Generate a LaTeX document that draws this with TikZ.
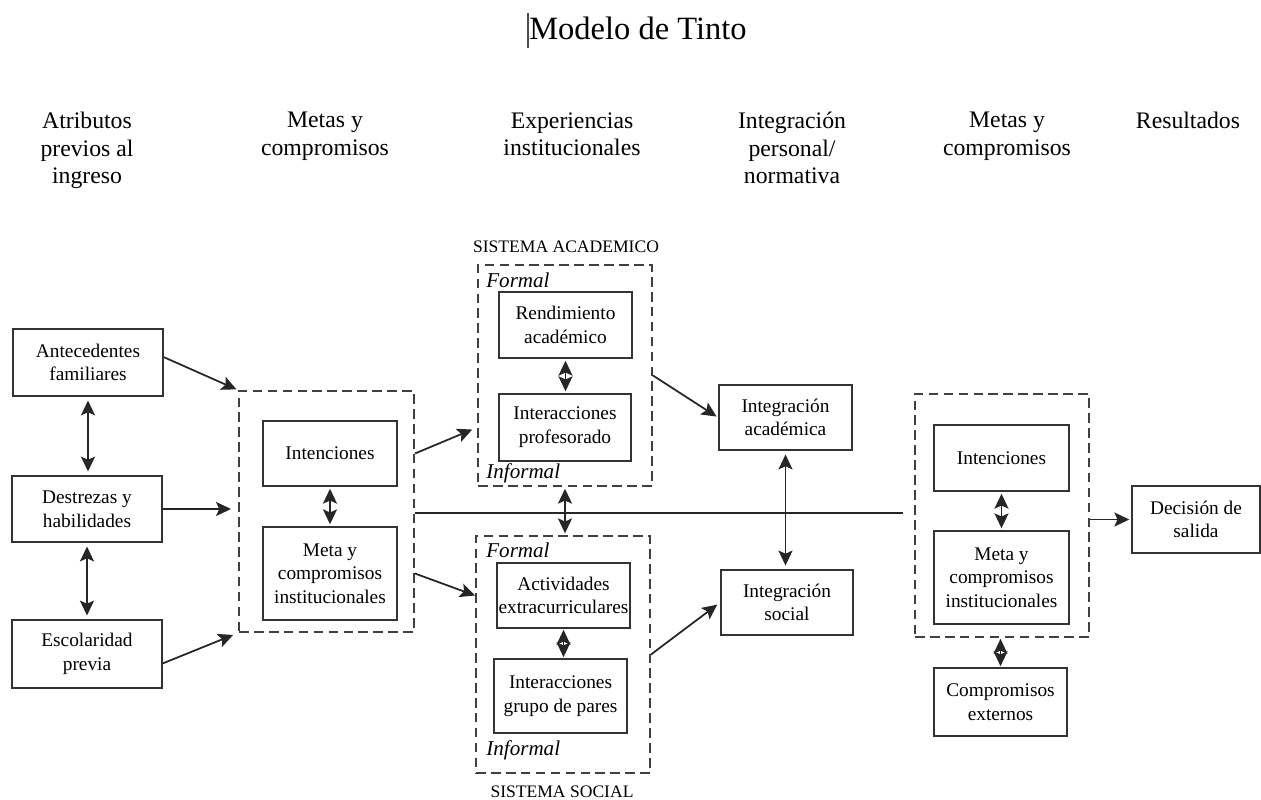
\documentclass[tikz,border=0pt]{standalone}
\usepackage{fontspec}
\setmainfont{Liberation Serif}
\usetikzlibrary{arrows.meta}

\begin{document}
\begin{tikzpicture}[x=0.02cm, y=-0.02cm,
          >={Stealth[length=8.5pt,width=8pt,inset=1.8pt]},
          caja/.style={draw=black!80, line width=1.1pt, align=center, inner sep=0pt, font=\fontsize{11}{13.5}\selectfont},
          marco/.style={draw=black!75, line width=1.1pt, dash pattern=on 5.5pt off 3pt, inner sep=0pt},
          cabecera/.style={align=center, anchor=north, inner sep=0pt, font=\fontsize{13.5}{15.5}\selectfont},
          sistema/.style={anchor=base, inner sep=0pt, font=\fontsize{10}{12}\selectfont},
          etiqueta/.style={anchor=west, inner sep=0pt, font=\fontsize{12}{14}\selectfont\itshape},
          flecha/.style={->, line width=1pt, draw=black!85},
          doble/.style={<->, line width=1pt, draw=black!85}]
          \useasboundingbox (0,0) rectangle (1261,799);
          \node[anchor=base, inner sep=0pt, font=\fontsize{18.5}{20}\selectfont] (titulo) at (638,39) {Modelo de Tinto};
          \coordinate (cursorA) at (528,13);
          \coordinate (cursorB) at (528,48);
          \draw[black!70, line width=0.8pt] (cursorA) -- (cursorB);
          \node[cabecera] (h1) at (87,112) {Atributos\\previos al\\ingreso};
          \node[cabecera] (h2) at (325,112) {Metas y\\compromisos};
          \node[cabecera] (h3) at (572,112) {Experiencias\\institucionales};
          \node[cabecera] (h4) at (792,112) {Integración\\personal/\\normativa};
          \node[cabecera] (h5) at (1007,112) {Metas y\\compromisos};
          \node[cabecera] (h6) at (1188,112) {Resultados};
          \node[marco, minimum width=3.5cm, minimum height=4.82cm] (metas1) at (326.5,511.5) {};
          \node[marco, minimum width=3.48cm, minimum height=4.42cm] (acad) at (565,375.5) {};
          \node[marco, minimum width=3.48cm, minimum height=4.74cm] (soc) at (563,654.5) {};
          \node[marco, minimum width=3.48cm, minimum height=4.86cm] (metas2) at (1002,515.5) {};
          \node[sistema] (sacad) at (566,252) {SISTEMA ACADEMICO};
          \node[sistema] (ssoc) at (562,797) {SISTEMA SOCIAL};
          \node[etiqueta] (formA) at (486,280) {Formal};
          \node[etiqueta] (informA) at (486,473) {Informal};
          \node[etiqueta] (formS) at (486,550) {Formal};
          \node[etiqueta] (informS) at (486,750) {Informal};
          \begin{scope}[every node/.style={caja}]
          \node[minimum width=3cm, minimum height=1.34cm] (ante) at (88,362.5) {Antecedentes\\familiares};
          \node[minimum width=3cm, minimum height=1.32cm] (dest) at (87,509) {Destrezas y\\habilidades};
          \node[minimum width=3cm, minimum height=1.36cm] (esco) at (87,654) {Escolaridad\\previa};
          \node[minimum width=2.68cm, minimum height=1.3cm] (int1) at (330,453.5) {Intenciones};
          \node[minimum width=2.68cm, minimum height=1.86cm] (meta1) at (330,573.5) {Meta y\\compromisos\\institucionales};
          \node[minimum width=2.66cm, minimum height=1.32cm] (rend) at (565.5,325) {Rendimiento\\académico};
          \node[minimum width=2.64cm, minimum height=1.34cm] (iprof) at (565,427.5) {Interacciones\\profesorado};
          \node[minimum width=2.66cm, minimum height=1.3cm] (activ) at (563.5,595.5) {Actividades\\extracurriculares};
          \node[minimum width=2.66cm, minimum height=1.48cm] (ipares) at (560.5,696) {Interacciones\\grupo de pares};
          \node[minimum width=2.66cm, minimum height=1.3cm] (intacad) at (785.5,417.5) {Integración\\académica};
          \node[minimum width=2.64cm, minimum height=1.3cm] (intsoc) at (787,602.5) {Integración\\social};
          \node[minimum width=2.7cm, minimum height=1.32cm] (int2) at (1001.5,458) {Intenciones};
          \node[minimum width=2.7cm, minimum height=1.86cm] (meta2) at (1001.5,577.5) {Meta y\\compromisos\\institucionales};
          \node[minimum width=2.66cm, minimum height=1.36cm] (compext) at (1000.5,702) {Compromisos\\externos};
          \node[minimum width=2.56cm, minimum height=1.34cm] (decision) at (1196,519.5) {Decisión de\\salida};
          \end{scope}
          \coordinate (finlinea) at (903,513);
          \draw[flecha, shorten >=1pt] (ante.4) -- (metas1.north west);
          \draw[flecha, shorten >=4pt] (dest.east) -- (dest.east -| metas1.west);
          \draw[flecha, shorten >=3pt] (esco.-7) -- (metas1.south west);
          \draw[doble, shorten <=2pt, shorten >=2pt] (ante.south) -- (ante.south |- dest.north);
          \draw[doble, shorten <=2pt, shorten >=2pt] (dest.south) -- (dest.south |- esco.north);
          \draw[doble, shorten <=1pt, shorten >=1pt] (int1.south) -- (meta1.north);
          \draw[flecha, shorten >=3pt] (int1.east -| metas1.east) -- (iprof.west -| acad.west);
          \draw[flecha] (meta1.east -| metas1.east) -- (activ.west -| soc.west);
          \draw[doble, shorten <=1pt, shorten >=1pt] (rend.south) -- (rend.south |- iprof.north);
          \draw[doble, shorten <=1pt, shorten >=1pt] (acad.south) -- (acad.south |- soc.north);
          \draw[doble, shorten <=0.5pt, shorten >=0.5pt] (activ.south) -- (activ.south |- ipares.north);
          \draw[line width=1pt, black!85] (metas1.east |- finlinea) -- (finlinea);
          \draw[flecha, shorten >=1pt] (acad.east) -- (intacad.west);
          \draw[flecha, shorten >=2pt] (soc.east) -- (intsoc.west);
          \draw[doble, shorten <=2pt, shorten >=2pt] (intacad.south) -- (intacad.south |- intsoc.north);
          \draw[doble, shorten <=1pt, shorten >=1pt] (int2.south) -- (meta2.north);
          \draw[doble, shorten <=0.5pt, shorten >=0.5pt] (metas2.south -| compext) -- (compext.north);
          \draw[flecha, shorten >=1pt] (metas2.east |- decision) -- (decision.west);
\end{tikzpicture}
\end{document}
